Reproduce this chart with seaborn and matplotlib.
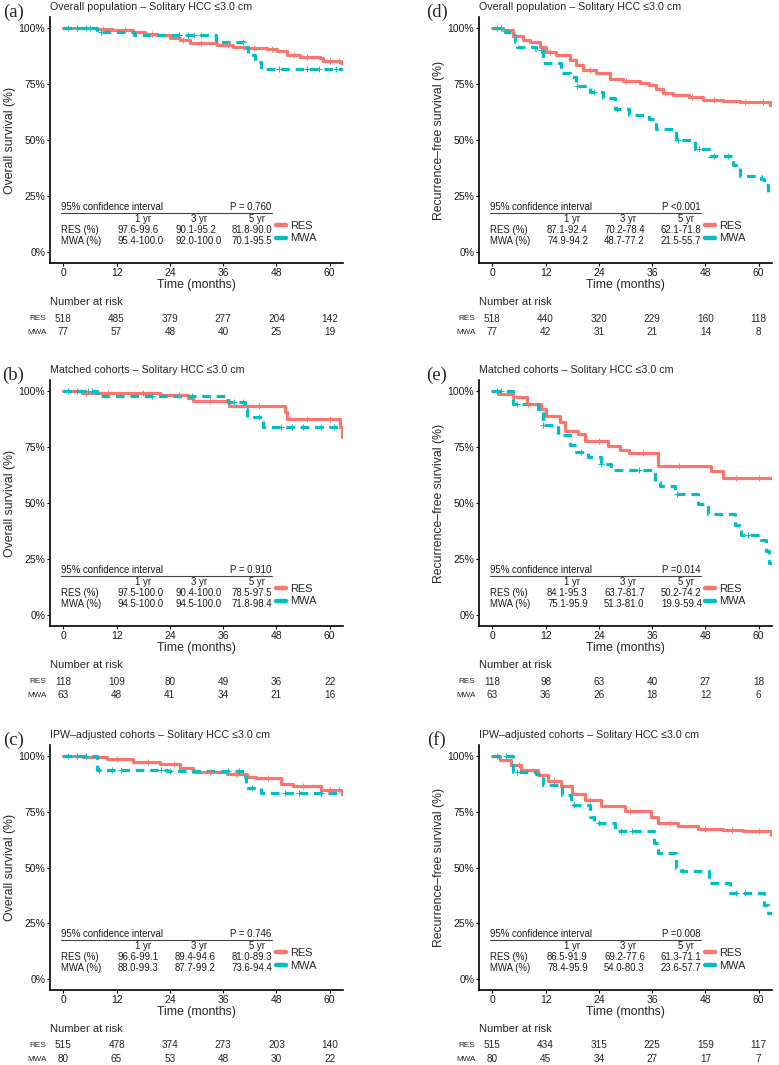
import numpy as np
import pandas as pd
import matplotlib
matplotlib.use('Agg')
import matplotlib.pyplot as plt
import matplotlib.transforms as mtransforms
from matplotlib.lines import Line2D
import seaborn as sns

sns.set_style('white')
plt.rcParams['font.family'] = ['Liberation Sans', 'DejaVu Sans']

RES_COLOR = '#F8766D'
MWA_COLOR = '#00BFC4'

x_ticks = [0, 12, 24, 36, 48, 60]
y_ticks = [0, 0.25, 0.5, 0.75, 1.0]
y_tick_labels = ['0%', '25%', '50%', '75%', '100%']
groups = ['RES', 'MWA']
ci_years = ['1 yr', '3 yr', '5 yr']

# ---------------- panel (a) ----------------
a_res_t = [0, 7.6, 11, 15.8, 18.5, 21.1, 24, 26.3, 28.6, 34.6, 38.3, 40.6, 45.8, 48.1, 50.3, 53.3, 57.8, 58.6, 62.5, 63.5]
a_res_s = [1.0, 0.995, 0.99, 0.984, 0.976, 0.969, 0.958, 0.947, 0.932, 0.925, 0.917, 0.91, 0.905, 0.899, 0.88, 0.872, 0.865, 0.854, 0.845, 0.845]
a_mwa_t = [0, 7.5, 16, 34.5, 40.6, 41.5, 43.2, 44.6, 63.5]
a_mwa_s = [1.0, 0.985, 0.968, 0.94, 0.915, 0.88, 0.85, 0.817, 0.817]
a_res_cens = [3, 9, 14, 20, 27, 31, 37, 43, 47, 52, 55, 60, 62]
a_mwa_cens = [1, 3, 5, 6, 8.5, 26, 28, 29.5, 31, 40.4, 48.5, 55, 57.5, 61.5]
a_risk_res = [518, 485, 379, 277, 204, 142]
a_risk_mwa = [77, 57, 48, 40, 25, 19]
a_ci_res = ['97.6-99.6', '90.1-95.2', '81.8-90.0']
a_ci_mwa = ['95.4-100.0', '92.0-100.0', '70.1-95.5']
a_p = 'P = 0.760'

# ---------------- panel (b) ----------------
b_res_t = [0, 4.1, 21.8, 28.1, 29.3, 37.4, 49.9, 50.3, 62.3, 62.7, 63.5]
b_res_s = [1.0, 0.993, 0.984, 0.969, 0.955, 0.932, 0.906, 0.876, 0.839, 0.795, 0.795]
b_mwa_t = [0, 7.5, 37.1, 40.9, 41.3, 45.0, 63.5]
b_mwa_s = [1.0, 0.98, 0.951, 0.921, 0.884, 0.839, 0.839]
b_res_cens = [5, 10, 18, 26, 33, 44, 55, 60]
b_mwa_cens = [1, 3, 5.5, 6.5, 20, 29, 38.5, 40.5, 44, 49, 51.5, 54, 58, 61]
b_risk_res = [118, 109, 80, 49, 36, 22]
b_risk_mwa = [63, 48, 41, 34, 21, 16]
b_ci_res = ['97.5-100.0', '90.4-100.0', '78.5-97.5']
b_ci_mwa = ['94.5-100.0', '94.5-100.0', '71.8-98.4']
b_p = 'P = 0.910'

# ---------------- panel (c) ----------------
c_res_t = [0, 4.5, 9.8, 15.8, 21.8, 26.3, 29.3, 36.8, 41.3, 43.5, 49.1, 51.8, 58.1, 62.8, 63.5]
c_res_s = [1.0, 0.994, 0.985, 0.975, 0.963, 0.945, 0.93, 0.92, 0.907, 0.9, 0.877, 0.865, 0.85, 0.832, 0.832]
c_mwa_t = [0, 7.5, 23.3, 40.9, 41.1, 44.6, 63.5]
c_mwa_s = [1.0, 0.94, 0.934, 0.907, 0.855, 0.835, 0.835]
c_res_cens = [3, 12, 19, 25, 33, 39, 46, 54, 60, 62]
c_mwa_cens = [1, 3, 5, 8, 11, 13, 22, 24, 37, 39.5, 42.5, 50, 53, 58]
c_risk_res = [515, 478, 374, 273, 203, 140]
c_risk_mwa = [80, 65, 53, 48, 30, 22]
c_ci_res = ['96.6-99.1', '89.4-94.6', '81.0-89.3']
c_ci_mwa = ['88.0-99.3', '87.7-99.2', '73.6-94.4']
c_p = 'P = 0.746'

# ---------------- panel (d) ----------------
d_res_t = [0, 2.4, 4.7, 6.9, 8.4, 10.7, 12.2, 14.4, 17.4, 18.9, 20.4, 23.4, 26.4, 29.4, 33.2, 35.4, 36.9, 38.4, 40.7, 44.4, 47.4, 52, 55.7, 62.5, 63.5]
d_res_s = [1.0, 0.99, 0.966, 0.948, 0.936, 0.918, 0.895, 0.88, 0.858, 0.835, 0.813, 0.798, 0.775, 0.763, 0.756, 0.745, 0.73, 0.708, 0.7, 0.693, 0.681, 0.675, 0.669, 0.655, 0.655]
d_mwa_t = [0, 2.8, 5.0, 5.5, 9.9, 11.4, 15.5, 17.4, 18.9, 21.9, 24.9, 27.6, 30.9, 35.4, 36.9, 41.4, 45.6, 48.9, 54.2, 55.7, 60.6, 61.3, 62.1, 63.5]
d_mwa_s = [1.0, 0.985, 0.94, 0.918, 0.903, 0.843, 0.80, 0.78, 0.74, 0.716, 0.69, 0.64, 0.61, 0.596, 0.551, 0.498, 0.461, 0.427, 0.386, 0.341, 0.326, 0.30, 0.26, 0.26]
d_res_cens = [5, 13, 22, 30, 39, 45, 50, 57, 61]
d_mwa_cens = [1, 2, 11, 19, 23, 28, 41.8, 46.5, 50, 53]
d_risk_res = [518, 440, 320, 229, 160, 118]
d_risk_mwa = [77, 42, 31, 21, 14, 8]
d_ci_res = ['87.1-92.4', '70.2-78.4', '62.1-71.8']
d_ci_mwa = ['74.9-94.2', '48.7-77.2', '21.5-55.7']
d_p = 'P <0.001'

# ---------------- panel (e) ----------------
e_res_t = [0, 1.3, 4.7, 7.7, 11, 12.2, 15.2, 16.3, 19.3, 20.8, 26.1, 28.7, 30.9, 37.3, 49.3, 52, 63.5]
e_res_s = [1.0, 0.988, 0.973, 0.943, 0.92, 0.888, 0.862, 0.824, 0.81, 0.777, 0.754, 0.735, 0.725, 0.665, 0.641, 0.612, 0.612]
e_mwa_t = [0, 4.7, 10.3, 11.4, 14.8, 17.4, 18.9, 21.5, 24.5, 26.8, 36.6, 37.7, 41.1, 46.3, 48.6, 54.6, 56.1, 60.6, 61.6, 62.3, 63.5]
e_mwa_s = [1.0, 0.943, 0.921, 0.85, 0.802, 0.76, 0.728, 0.705, 0.676, 0.646, 0.594, 0.574, 0.542, 0.494, 0.452, 0.40, 0.359, 0.336, 0.284, 0.233, 0.233]
e_res_cens = [8, 24, 34, 42, 55, 60]
e_mwa_cens = [1, 2, 5.5, 11.5, 20, 24.5, 33, 41.5, 57.5]
e_risk_res = [118, 98, 63, 40, 27, 18]
e_risk_mwa = [63, 36, 26, 18, 12, 6]
e_ci_res = ['84.1-95.3', '63.7-81.7', '50.2-74.2']
e_ci_mwa = ['75.1-95.9', '51.3-81.0', '19.9-59.4']
e_p = 'P =0.014'

# ---------------- panel (f) ----------------
f_res_t = [0, 1.7, 4.3, 6.5, 10.3, 12.5, 15.5, 18, 20.8, 24.5, 29.8, 35.8, 37.3, 41.8, 46.3, 52, 56.5, 62.8, 63.5]
f_res_s = [1.0, 0.982, 0.96, 0.937, 0.915, 0.888, 0.865, 0.832, 0.805, 0.775, 0.753, 0.728, 0.698, 0.686, 0.675, 0.668, 0.663, 0.648, 0.648]
f_mwa_t = [0, 4.7, 9.9, 11.4, 15.8, 17.8, 21.9, 23, 27.6, 36.4, 37.3, 41.4, 42.6, 48.9, 53.5, 61.3, 62.1, 63.5]
f_mwa_s = [1.0, 0.93, 0.919, 0.87, 0.825, 0.78, 0.728, 0.70, 0.663, 0.608, 0.563, 0.496, 0.485, 0.432, 0.384, 0.332, 0.295, 0.295]
f_res_cens = [6, 14, 22, 31, 40, 48, 54, 60]
f_mwa_cens = [1, 3, 5.5, 18.5, 24, 29, 31.5, 43, 55, 57]
f_risk_res = [515, 434, 315, 225, 159, 117]
f_risk_mwa = [80, 45, 34, 27, 17, 7]
f_ci_res = ['86.5-91.9', '69.2-77.6', '61.3-71.1']
f_ci_mwa = ['78.4-95.9', '54.0-80.3', '23.6-57.7']
f_p = 'P =0.008'

titles = ['Overall population \u2013 Solitary HCC \u22643.0 cm',
          'Matched cohorts \u2013 Solitary HCC \u22643.0 cm',
          'IPW\u2013adjusted cohorts \u2013 Solitary HCC \u22643.0 cm']
ylabels = ['Overall survival (%)', 'Recurrence\u2013free survival (%)']
panel_letters = ['(a)', '(b)', '(c)', '(d)', '(e)', '(f)']

panels = [
    (a_res_t, a_res_s, a_mwa_t, a_mwa_s, a_res_cens, a_mwa_cens, a_risk_res, a_risk_mwa, a_ci_res, a_ci_mwa, a_p),
    (b_res_t, b_res_s, b_mwa_t, b_mwa_s, b_res_cens, b_mwa_cens, b_risk_res, b_risk_mwa, b_ci_res, b_ci_mwa, b_p),
    (c_res_t, c_res_s, c_mwa_t, c_mwa_s, c_res_cens, c_mwa_cens, c_risk_res, c_risk_mwa, c_ci_res, c_ci_mwa, c_p),
    (d_res_t, d_res_s, d_mwa_t, d_mwa_s, d_res_cens, d_mwa_cens, d_risk_res, d_risk_mwa, d_ci_res, d_ci_mwa, d_p),
    (e_res_t, e_res_s, e_mwa_t, e_mwa_s, e_res_cens, e_mwa_cens, e_risk_res, e_risk_mwa, e_ci_res, e_ci_mwa, e_p),
    (f_res_t, f_res_s, f_mwa_t, f_mwa_s, f_res_cens, f_mwa_cens, f_risk_res, f_risk_mwa, f_ci_res, f_ci_mwa, f_p),
]

W, H = 779, 1065
fig = plt.figure(figsize=(W / 100, H / 100), dpi=100)

col_x = [(50, 343), (479, 772)]
row_y = [(17, 263), (380, 626), (745, 990)]
letter_x = [-0.126, -0.144]

MWA_DASH = (0, (2.7, 1.8))


def draw_curve(ax, t, s, cens, color, ls):
    df = pd.DataFrame({'time': t, 'surv': s})
    sns.lineplot(data=df, x='time', y='surv', ax=ax, color=color, linewidth=2.3,
                 drawstyle='steps-post', estimator=None, sort=False,
                 linestyle=ls, legend=False, zorder=2)
    t_arr = np.asarray(t)
    s_arr = np.asarray(s)
    idx = np.searchsorted(t_arr, np.asarray(cens), side='right') - 1
    sns.scatterplot(x=np.asarray(cens, dtype=float), y=s_arr[idx], ax=ax, marker='+',
                    color=color, s=16, linewidth=0.7, legend=False, zorder=3)


for i, p in enumerate(panels):
    col, row = divmod(i, 3)
    (res_t, res_s, mwa_t, mwa_s, res_c, mwa_c, rk_res, rk_mwa, ci_res, ci_mwa, pval) = p
    x0, x1 = col_x[col]
    y0, y1 = row_y[row]
    ax = fig.add_axes([x0 / W, 1 - y1 / H, (x1 - x0) / W, (y1 - y0) / H])

    draw_curve(ax, res_t, res_s, res_c, RES_COLOR, '-')
    draw_curve(ax, mwa_t, mwa_s, mwa_c, MWA_COLOR, MWA_DASH)

    ax.set_xlim(-3, 63)
    ax.set_ylim(-0.05, 1.05)
    ax.set_xticks(x_ticks)
    ax.set_xticklabels([str(v) for v in x_ticks])
    ax.set_yticks(y_ticks)
    ax.set_yticklabels(y_tick_labels)
    for sp in ['top', 'right']:
        ax.spines[sp].set_visible(False)
    for sp in ['left', 'bottom']:
        ax.spines[sp].set_color('black')
        ax.spines[sp].set_linewidth(1.2)
    ax.tick_params(axis='both', which='major', direction='out', length=2.2, width=0.8,
                   color='black', labelsize=7.5, labelcolor='#1a1a1a', pad=1.2,
                   bottom=True, left=True)
    ax.set_xlabel('Time (months)', fontsize=8.8)
    ax.xaxis.set_label_coords(0.5, -0.064)
    ax.set_ylabel(ylabels[col], fontsize=8.8)
    ax.yaxis.set_label_coords(-0.115, 0.5)

    ax.text(0.0, 1.041, titles[row], transform=ax.transAxes, fontsize=7.7,
            ha='left', va='center')
    ax.text(letter_x[col], 1.02, panel_letters[i], transform=ax.transAxes,
            fontsize=13.5, family='Liberation Serif', ha='center', va='center')

    # confidence-interval table
    ax.text(0.0375, 0.228, '95% confidence interval', transform=ax.transAxes,
            fontsize=6.9, ha='left', va='center', color='#1a1a1a')
    ax.text(0.756, 0.228, pval, transform=ax.transAxes,
            fontsize=6.9, ha='right', va='center', color='#1a1a1a')
    ax.add_line(Line2D([0.0375, 0.756], [0.205, 0.205], transform=ax.transAxes,
                       color='#444444', linewidth=0.8))
    for k, yr in enumerate(ci_years):
        ax.text([0.317, 0.509, 0.706][k], 0.179, yr, transform=ax.transAxes,
                fontsize=6.9, ha='center', va='center', color='#1a1a1a')
    for g, vals, yy in [('RES (%)', ci_res, 0.134), ('MWA (%)', ci_mwa, 0.089)]:
        ax.text(0.0375, yy, g, transform=ax.transAxes, fontsize=6.9,
                ha='left', va='center', color='#1a1a1a')
        for k, v in enumerate(vals):
            ax.text([0.232, 0.427, 0.621][k], yy, v, transform=ax.transAxes,
                    fontsize=6.9, ha='left', va='center', color='#1a1a1a')

    # legend
    handles = [Line2D([0], [0], color=RES_COLOR, lw=3.2),
               Line2D([0], [0], color=MWA_COLOR, lw=3.2)]
    ax.legend(handles, groups, loc='center left', bbox_to_anchor=(0.772, 0.126),
              frameon=False, fontsize=7.9, handlelength=0.9, handletextpad=0.35,
              labelspacing=0.25, borderpad=0, borderaxespad=0)

    # number at risk table
    blend = mtransforms.blended_transform_factory(ax.transData, ax.transAxes)
    ax.text(0.0, -0.158, 'Number at risk', transform=ax.transAxes, fontsize=8.0,
            ha='left', va='center')
    for g, nums, yy in [('RES', rk_res, -0.226), ('MWA', rk_mwa, -0.282)]:
        ax.text(-0.012, yy, g, transform=ax.transAxes, fontsize=5.9,
                ha='right', va='center')
        for xv, n in zip(x_ticks, nums):
            ax.text(xv, yy, str(n), transform=blend, fontsize=7.2,
                    ha='center', va='center')

fig.savefig('out.png', dpi=100)
